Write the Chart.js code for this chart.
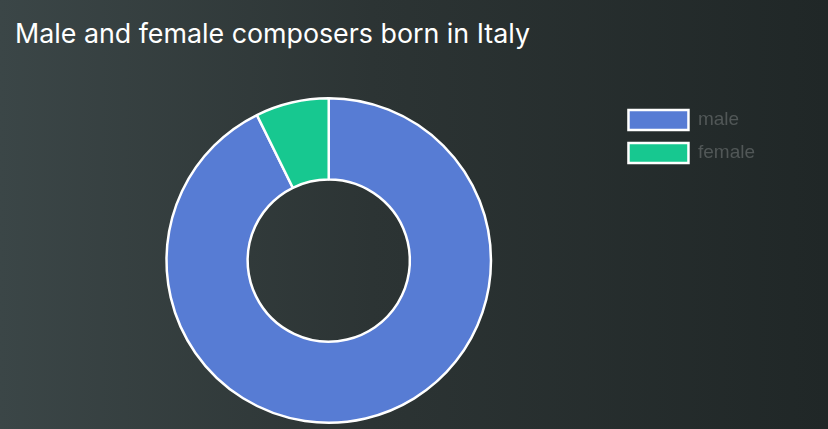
<!DOCTYPE html>
<html>
<head>
<meta charset="utf-8">
<script src="https://cdn.jsdelivr.net/npm/chart.js@4"></script>
<style>
html,body{margin:0;padding:0;width:828px;height:429px;overflow:hidden;}
body{background:linear-gradient(to right,#3b4647 0%,#2c3434 45%,#202727 100%);position:relative;}
#title{position:absolute;left:15px;top:17px;font-family:Inter,"Open Sans",sans-serif;font-size:26.8px;color:#ffffff;white-space:nowrap;}
#wrap{position:absolute;left:0;top:0;width:828px;height:429px;}
</style>
</head>
<body>
<div id="title">Male and female composers born in Italy</div>
<div id="wrap"><canvas id="c" width="828" height="429"></canvas></div>
<script>
const categories = ["male", "female"];
const values = [92.7, 7.3];
const colors = ["#577cd4", "#17c890"];

new Chart(document.getElementById('c'), {
  type: 'doughnut',
  data: {
    labels: categories,
    datasets: [{
      data: values,
      backgroundColor: colors,
      borderColor: '#ffffff',
      borderWidth: 2.5
    }]
  },
  options: {
    responsive: false,
    animation: false,
    cutout: '50%',
    layout: { padding: { top: 97, bottom: 5, left: 42, right: 63 } },
    plugins: {
      title: { display: false },
      tooltip: { enabled: false },
      legend: {
        position: 'right',
        align: 'start',
        labels: {
          boxWidth: 60,
          boxHeight: 20,
          padding: 13,
          color: '#515757',
          font: { family: '"Liberation Sans", Arial, sans-serif', size: 19 }
        }
      }
    }
  }
});
</script>
</body>
</html>
